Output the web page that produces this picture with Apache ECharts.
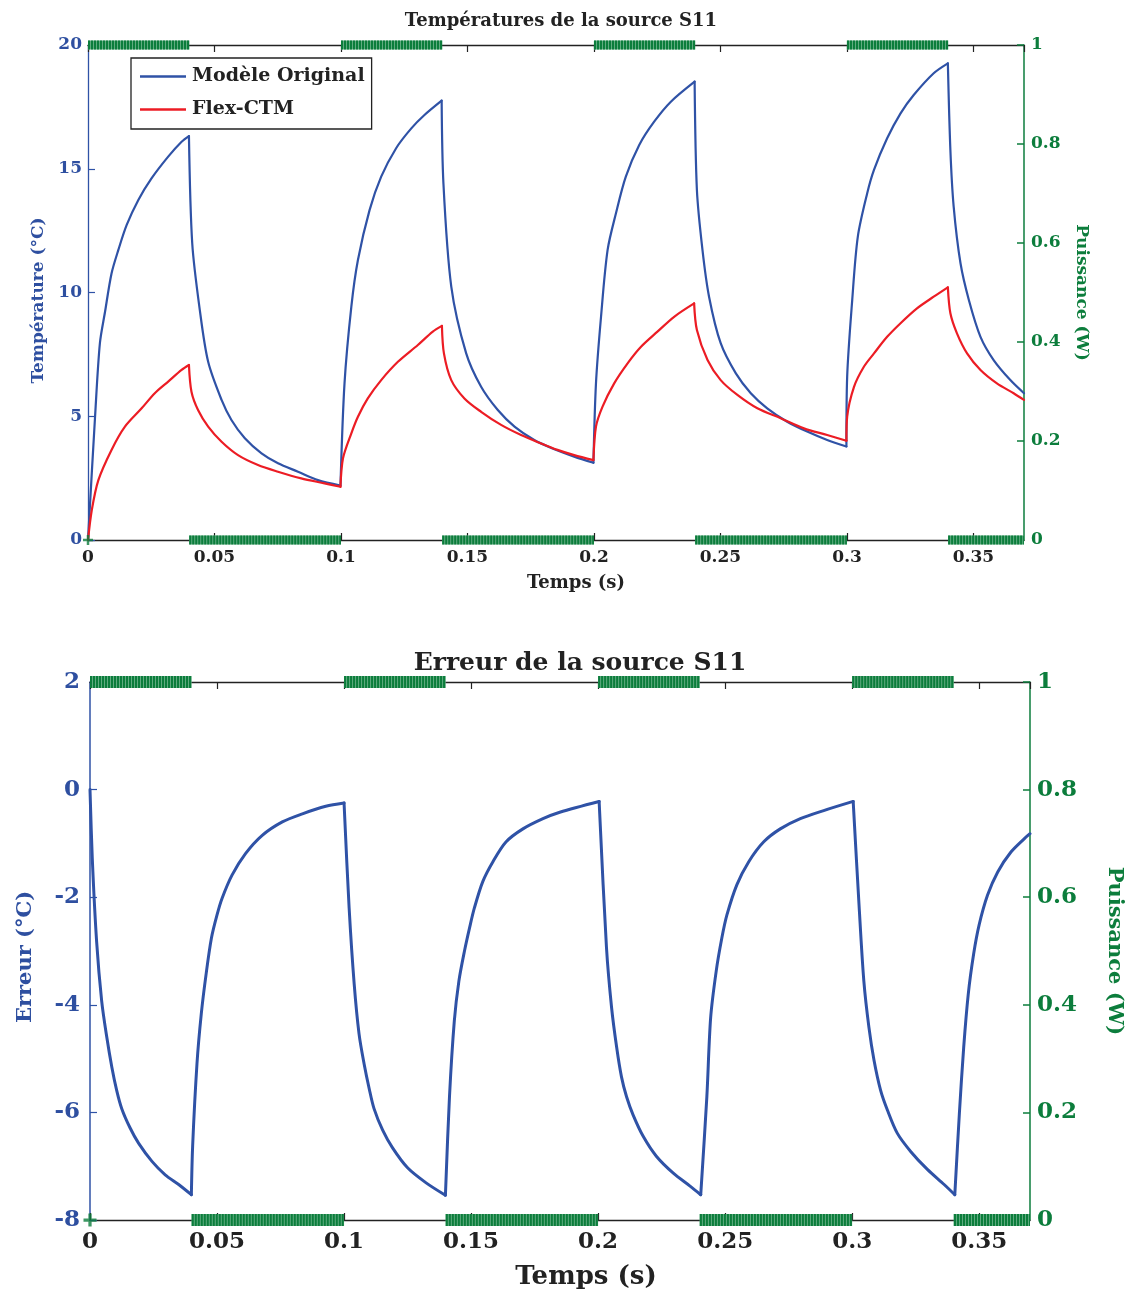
<!DOCTYPE html>
<html>
<head>
<meta charset="utf-8">
<script src="https://cdn.jsdelivr.net/npm/echarts@6/dist/echarts.min.js"></script>
<style>
html,body{margin:0;padding:0;background:#fff;}
#chart{width:1136px;height:1292px;}
</style>
</head>
<body>
<div id="chart"></div>
<script>
// ---------- DATA ----------
const titleTop = 'Températures de la source S11';
const titleBottom = 'Erreur de la source S11';
const seriesNames = ['Modèle Original', 'Flex-CTM'];

// Temperature of original model (time s, °C)
const tempOriginal = [
  [0,0],[0.0028,5.0],[0.0047,7.95],[0.0067,9.2],[0.0093,10.77],[0.012,11.72],[0.0153,12.73],[0.0199,13.74],[0.0251,14.61],[0.0317,15.49],[0.037,16.09],[0.0399,16.32],
  [0.0412,11.99],[0.0442,9.29],[0.0475,7.2],[0.0528,5.66],[0.0567,4.85],[0.062,4.11],[0.0686,3.5],[0.0751,3.1],[0.083,2.76],[0.0909,2.42],[0.0998,2.2],
  [0.1014,6.33],[0.1041,9.43],[0.1067,11.31],[0.1113,13.33],[0.1159,14.68],[0.1218,15.83],[0.1278,16.63],[0.133,17.17],[0.1398,17.75],
  [0.1405,14.41],[0.1436,10.24],[0.1495,7.54],[0.1554,6.19],[0.162,5.25],[0.1686,4.58],[0.1764,4.04],[0.1836,3.7],[0.1922,3.37],[0.1998,3.12],
  [0.2008,6.33],[0.2028,9.02],[0.2054,11.72],[0.2087,13.2],[0.2126,14.68],[0.2179,15.96],[0.2238,16.9],[0.2304,17.71],[0.2398,18.52],
  [0.2407,14.14],[0.2429,11.72],[0.2455,9.83],[0.2501,7.95],[0.2561,6.73],[0.262,5.93],[0.2685,5.32],[0.2764,4.78],[0.2843,4.38],[0.2922,4.04],[0.2998,3.78],
  [0.3001,6.6],[0.3021,9.7],[0.3043,12.25],[0.308,14.0],[0.3107,14.95],[0.3159,16.23],[0.3212,17.24],[0.3264,17.98],[0.3343,18.86],[0.3399,19.26],
  [0.3409,15.76],[0.3422,13.47],[0.3449,11.18],[0.3482,9.7],[0.3528,8.21],[0.358,7.27],[0.3646,6.46],[0.37,5.93]
];

// Temperature of Flex-CTM (time s, °C)
const tempFlex = [
  [0,0],[0.0015,1.21],[0.0041,2.42],[0.0093,3.64],[0.0146,4.58],[0.0212,5.32],[0.0264,5.93],[0.0317,6.4],[0.037,6.87],[0.0399,7.07],
  [0.0409,5.99],[0.0435,5.25],[0.0475,4.58],[0.0528,3.97],[0.0593,3.43],[0.0672,3.03],[0.0751,2.76],[0.0843,2.49],[0.0935,2.29],[0.0998,2.15],
  [0.1008,3.3],[0.1041,4.31],[0.1067,4.98],[0.1106,5.72],[0.1159,6.46],[0.1225,7.2],[0.1304,7.88],[0.1363,8.42],[0.1399,8.65],
  [0.1407,7.54],[0.1436,6.46],[0.1488,5.72],[0.1554,5.18],[0.1633,4.65],[0.1712,4.24],[0.1791,3.9],[0.1856,3.64],[0.1922,3.43],[0.1998,3.23],
  [0.2008,4.58],[0.2034,5.39],[0.208,6.33],[0.2133,7.14],[0.2186,7.81],[0.2251,8.42],[0.2317,9.02],[0.2396,9.56],
  [0.2407,8.48],[0.2449,7.27],[0.2501,6.46],[0.2567,5.86],[0.2646,5.32],[0.2738,4.92],[0.283,4.51],[0.2922,4.24],[0.2998,4.01],
  [0.3001,4.98],[0.3028,6.19],[0.3067,7.0],[0.3107,7.54],[0.3159,8.21],[0.3212,8.76],[0.3277,9.36],[0.3343,9.83],[0.3399,10.21],
  [0.3409,9.16],[0.3435,8.35],[0.3475,7.54],[0.3528,6.87],[0.3593,6.33],[0.3659,5.93],[0.37,5.66]
];

// Error (time s, °C)
const errorS11 = [
  [0,0],[0.0009,-1.28],[0.0026,-2.82],[0.0046,-3.93],[0.0066,-4.6],[0.0086,-5.16],[0.0105,-5.59],[0.0125,-5.93],[0.0158,-6.29],[0.0191,-6.57],[0.0244,-6.91],[0.0296,-7.16],[0.0349,-7.34],[0.0399,-7.53],
  [0.0404,-6.63],[0.0421,-5.1],[0.0438,-4.17],[0.0457,-3.43],[0.0478,-2.76],[0.05,-2.33],[0.052,-2.02],[0.0559,-1.59],[0.0612,-1.19],[0.0678,-0.85],[0.0757,-0.6],[0.0836,-0.45],[0.0928,-0.31],[0.1,-0.25],
  [0.102,-2.2],[0.104,-3.62],[0.1059,-4.54],[0.1079,-5.1],[0.1099,-5.56],[0.1118,-5.93],[0.1152,-6.33],[0.1191,-6.66],[0.125,-7.03],[0.1323,-7.31],[0.1399,-7.54],
  [0.1415,-5.71],[0.1434,-4.3],[0.1452,-3.56],[0.1474,-3.0],[0.1494,-2.57],[0.1513,-2.2],[0.1546,-1.71],[0.1586,-1.34],[0.1638,-0.97],[0.1704,-0.73],[0.1783,-0.54],[0.1849,-0.42],[0.2004,-0.22],
  [0.2033,-2.94],[0.2053,-4.05],[0.2073,-4.79],[0.2092,-5.34],[0.2112,-5.71],[0.2138,-6.05],[0.2178,-6.45],[0.223,-6.82],[0.2296,-7.13],[0.2362,-7.37],[0.2404,-7.53],
  [0.2428,-5.71],[0.2443,-4.24],[0.2465,-3.37],[0.2487,-2.76],[0.2507,-2.33],[0.2546,-1.77],[0.2593,-1.34],[0.2652,-0.97],[0.2717,-0.73],[0.2796,-0.54],[0.2888,-0.39],[0.3004,-0.22],
  [0.3027,-2.14],[0.3046,-3.56],[0.3066,-4.42],[0.3086,-5.03],[0.3112,-5.59],[0.3139,-5.96],[0.3178,-6.39],[0.3231,-6.73],[0.3296,-7.06],[0.3362,-7.34],[0.3404,-7.53],
  [0.3422,-6.02],[0.3439,-4.79],[0.3457,-3.8],[0.3478,-3.06],[0.35,-2.51],[0.3533,-1.96],[0.3573,-1.53],[0.3625,-1.16],[0.3678,-0.91],[0.37,-0.82]
];

// Power (W): square wave segments
const powerOnStart  = [0, 0.1, 0.2, 0.3];
const powerOnEnd    = [0.04, 0.14, 0.24, 0.34];
const powerOffStart = [0.04, 0.14, 0.24, 0.34];
const powerOffEnd   = [0.1, 0.2, 0.3, 0.37];
const powerOn = 1, powerOff = 0;
const powerInitial = [[0, 0]];

// Axis ranges / ticks
const timeMin = 0, timeMax = 0.37, timeStep = 0.05;
const tempMin = 0, tempMax = 20, tempStep = 5;
const errMin = -8, errMax = 2, errStep = 2;
const powMin = 0, powMax = 1, powStep = 0.2;

// ---------- STYLE ----------
const FONT = 'DejaVu Serif';
const BLUE = '#2f52a6';
const BLUE_TXT = '#2e4fa0';
const RED = '#ec1c24';
const GREEN = '#0c7d3c';
const GREEN_LIGHT = '#76b892';
const BLACK = '#222';

// split a curve at its turning points so each monotone branch can be smoothed alone
function branches(data) {
  const out = [];
  let cur = [data[0]];
  for (let i = 1; i < data.length; i++) {
    cur.push(data[i]);
    if (i < data.length - 1) {
      const d1 = data[i][1] - data[i - 1][1];
      const d2 = data[i + 1][1] - data[i][1];
      if (d1 * d2 < 0) { out.push(cur); cur = [data[i]]; }
    }
  }
  out.push(cur);
  return out;
}

function xAxes(grid, fs, margin, nameGap, namePad, nameFs) {
  return [
    {
      type: 'value', gridIndex: grid, position: 'bottom',
      min: timeMin, max: timeMax, interval: timeStep,
      name: 'Temps (s)', nameLocation: 'middle', nameGap: nameGap,
      nameTextStyle: { fontFamily: FONT, fontWeight: 'bold', fontSize: nameFs, color: BLACK, padding: [0, 0, 0, namePad] },
      axisLine: { show: true, onZero: false, lineStyle: { color: BLACK, width: 1.3 } },
      axisTick: { show: true, inside: true, length: 7, lineStyle: { color: BLACK, width: 1.2 } },
      axisLabel: { fontFamily: FONT, fontWeight: 'bold', fontSize: fs, color: BLACK, margin: margin, showMaxLabel: false },
      splitLine: { show: false }
    },
    {
      type: 'value', gridIndex: grid, position: 'top',
      min: timeMin, max: timeMax, interval: timeStep,
      axisLine: { show: true, onZero: false, lineStyle: { color: BLACK, width: 1.3 } },
      axisTick: { show: true, inside: true, length: 7, lineStyle: { color: BLACK, width: 1.2 } },
      axisLabel: { show: false },
      splitLine: { show: false }
    }
  ];
}

function powerAxis(grid, fs, nameFs, nameGap) {
  return {
    type: 'value', gridIndex: grid, position: 'right',
    min: powMin, max: powMax, interval: powStep,
    name: 'Puissance (W)', nameLocation: 'middle', nameGap: nameGap, nameRotate: -90,
    nameTextStyle: { fontFamily: FONT, fontWeight: 'bold', fontSize: nameFs, color: GREEN },
    axisLine: { show: true, onZero: false, lineStyle: { color: GREEN, width: 1.5 } },
    axisTick: { show: true, inside: true, length: 7, lineStyle: { color: GREEN, width: 1.5 } },
    axisLabel: { fontFamily: FONT, fontWeight: 'bold', fontSize: fs, color: GREEN, margin: 7 },
    splitLine: { show: false }
  };
}

const series = [];
function powerSeries(xIdx, yIdx, bandW) {
  const segs = [];
  powerOnStart.forEach((s, i) => segs.push([[s, powerOn], [powerOnEnd[i], powerOn]]));
  powerOffStart.forEach((s, i) => segs.push([[s, powerOff], [powerOffEnd[i], powerOff]]));
  segs.forEach(seg => {
    series.push({
      type: 'line', xAxisIndex: xIdx, yAxisIndex: yIdx, data: seg, showSymbol: false, symbol: 'none',
      clip: false, silent: true, z: 5, animation: false,
      lineStyle: { color: GREEN_LIGHT, width: bandW, cap: 'butt' }
    });
    series.push({
      type: 'line', xAxisIndex: xIdx, yAxisIndex: yIdx, data: seg, showSymbol: false, symbol: 'none',
      clip: false, silent: true, z: 6, animation: false,
      lineStyle: { color: GREEN, width: bandW, type: [2.2, 0.8], cap: 'butt' }
    });
  });
  series.push({
    type: 'scatter', xAxisIndex: xIdx, yAxisIndex: yIdx, data: powerInitial, clip: false, silent: true, z: 7,
    symbol: 'path://M3,0h2v3h3v2h-3v3h-2v-3h-3v-2h3z', symbolSize: bandW + 1,
    itemStyle: { color: GREEN }, animation: false
  });
}

function curveSeries(name, data, xIdx, yIdx, color, width, z) {
  branches(data).forEach(b => {
    series.push({
      name: name, type: 'line', xAxisIndex: xIdx, yAxisIndex: yIdx, data: b,
      showSymbol: false, symbol: 'none', smooth: 0.3,
      lineStyle: { color: color, width: width, join: 'round', cap: 'round' }, itemStyle: { color: color }, z: z, animation: false
    });
  });
}

curveSeries(seriesNames[0], tempOriginal, 0, 0, BLUE, 2.2, 3);
curveSeries(seriesNames[1], tempFlex, 0, 0, RED, 2.2, 4);
powerSeries(0, 1, 9);
curveSeries(undefined, errorS11, 2, 2, BLUE, 3, 3);
powerSeries(2, 3, 12);

const option = {
  backgroundColor: '#fff',
  animation: false,
  title: [
    { text: titleTop, left: 556, top: 7, textAlign: 'center',
      textStyle: { fontFamily: FONT, fontWeight: 'bold', fontSize: 18, color: BLACK } },
    { text: titleBottom, left: 575, top: 646, textAlign: 'center',
      textStyle: { fontFamily: FONT, fontWeight: 'bold', fontSize: 25, color: BLACK } }
  ],
  legend: {
    data: seriesNames, orient: 'vertical', left: 131, top: 58,
    icon: 'rect', itemWidth: 46, itemHeight: 2.5, itemGap: 14,
    padding: [9, 7, 10, 9], borderColor: BLACK, borderWidth: 1.3, backgroundColor: '#fff',
    textStyle: { fontFamily: FONT, fontWeight: 'bold', fontSize: 19, color: BLACK, padding: [0, 0, 0, 1] },
    z: 20
  },
  grid: [
    { left: 88, right: 112, top: 45, height: 495, containLabel: false },
    { left: 90, right: 106, top: 682, height: 538, containLabel: false }
  ],
  xAxis: [].concat(xAxes(0, 17, 9, 34, 40, 18), xAxes(1, 23, 11, 44, 52, 26)),
  yAxis: [
    {
      type: 'value', gridIndex: 0, position: 'left', min: tempMin, max: tempMax, interval: tempStep,
      name: 'Température (°C)', nameLocation: 'middle', nameGap: 39,
      nameTextStyle: { fontFamily: FONT, fontWeight: 'bold', fontSize: 17, color: BLUE_TXT, padding: [0, 16, 0, 0] },
      axisLine: { show: true, onZero: false, lineStyle: { color: BLUE, width: 1.3 } },
      axisTick: { show: true, inside: true, length: 7, lineStyle: { color: BLUE, width: 1.2 } },
      axisLabel: { fontFamily: FONT, fontWeight: 'bold', fontSize: 17, color: BLUE_TXT, margin: 6 },
      splitLine: { show: false }
    },
    powerAxis(0, 17, 17, 49),
    {
      type: 'value', gridIndex: 1, position: 'left', min: errMin, max: errMax, interval: errStep,
      name: 'Erreur (°C)', nameLocation: 'middle', nameGap: 54,
      nameTextStyle: { fontFamily: FONT, fontWeight: 'bold', fontSize: 21, color: BLUE_TXT, padding: [0, 12, 0, 0] },
      axisLine: { show: true, onZero: false, lineStyle: { color: BLUE, width: 1.5 } },
      axisTick: { show: true, inside: true, length: 7, lineStyle: { color: BLUE, width: 1.2 } },
      axisLabel: { fontFamily: FONT, fontWeight: 'bold', fontSize: 23, color: BLUE_TXT, margin: 10 },
      splitLine: { show: false }
    },
    powerAxis(1, 23, 21, 74)
  ],
  series: series
};

const chart = echarts.init(document.getElementById('chart'), null, { renderer: 'canvas' });
chart.setOption(option);
</script>
</body>
</html>
